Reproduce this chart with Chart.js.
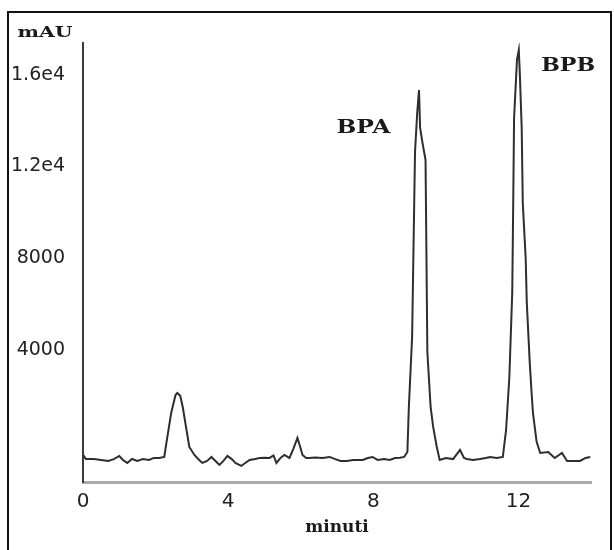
<!DOCTYPE html>
<html>
<head>
<meta charset="utf-8">
<script src="https://cdn.jsdelivr.net/npm/chart.js@4.4.1/dist/chart.umd.min.js"></script>
<style>
  html, body { margin: 0; padding: 0; background: #fff; }
  #wrap { width: 614px; height: 550px; }
</style>
</head>
<body>
<div id="wrap"><canvas id="hplcChart" width="614" height="550"></canvas></div>
<script>
// retention time (minuti) and detector signal (mAU)
var times = [0.00, 0.08, 0.30, 0.50, 0.70, 0.85, 1.00, 1.10, 1.22, 1.35, 1.50, 1.65, 1.82, 1.95, 2.10, 2.24,
  2.29, 2.43, 2.55, 2.60, 2.68, 2.75, 2.82, 2.93, 3.07, 3.20, 3.29, 3.42, 3.54, 3.65, 3.76, 3.87, 3.98,
  4.10, 4.20, 4.36, 4.50, 4.59, 4.75, 4.86, 5.00, 5.14, 5.25, 5.33, 5.45, 5.55, 5.69, 5.80, 5.91, 5.98,
  6.05, 6.15, 6.24, 6.40, 6.60, 6.80, 6.95, 7.10, 7.27, 7.45, 7.60, 7.71, 7.85, 7.98, 8.12, 8.30, 8.45,
  8.60, 8.73, 8.85, 8.94, 8.98, 9.07, 9.15, 9.21, 9.26, 9.29, 9.36, 9.44, 9.49, 9.58, 9.65, 9.75, 9.83,
  10.00, 10.20, 10.39, 10.50, 10.58, 10.75, 10.94, 11.10, 11.22, 11.40, 11.57, 11.66, 11.75, 11.83, 11.86,
  11.88, 11.96, 12.01, 12.04, 12.09, 12.12, 12.20, 12.23, 12.31, 12.36, 12.40, 12.50, 12.60, 12.82, 13.00,
  13.20, 13.34, 13.50, 13.70, 13.85, 13.98];
var mau = [-580, -755, -755, -800, -842, -760, -624, -800, -929, -755, -842, -755, -798, -711, -711, -667,
  -144, 1252, 2037, 2124, 2000, 1500, 816, -231, -580, -800, -929, -842, -667, -842, -1016, -842, -624,
  -760, -929, -1060, -900, -798, -760, -711, -700, -711, -600, -929, -700, -580, -711, -300, 161, -200,
  -580, -711, -711, -690, -711, -667, -760, -842, -842, -800, -798, -798, -711, -667, -798, -760, -798,
  -711, -700, -667, -449, 1514, 4567, 12637, 14338, 15341, 13700, 13000, 12288, 3913, 1514, 641, -231, -798,
  -711, -760, -362, -711, -755, -800, -755, -711, -667, -711, -667, 510, 2822, 6530, 10980,
  14120, 16650, 17086, 16000, 13684, 10412, 8000, 6094, 3500, 2200, 1252, 0, -493, -449, -711,
  -493, -842, -842, -842, -711, -667];

var xTicks = [0, 4, 8, 12];
var yTicks = [4000, 8000, 12000, 16000];

// peak names and where their labels sit (in data units)
var peakNames = ['BPA', 'BPB'];
var peakLabelTime = [7.73, 13.37];
var peakLabelMau = [13700, 16400];

function wideText(ctx, text, x, y, targetWidth) {
  var w = ctx.measureText(text).width;
  ctx.save();
  ctx.translate(x, y);
  ctx.scale(targetWidth / w, 1);
  ctx.fillText(text, 0, 0);
  ctx.restore();
}

var extras = {
  id: 'extras',
  afterDraw: function(chart) {
    var ctx = chart.ctx;
    var xs = chart.scales.x, ys = chart.scales.y;
    ctx.save();
    // outer frame
    ctx.strokeStyle = '#111';
    ctx.lineWidth = 2;
    ctx.beginPath();
    ctx.moveTo(8, 560);
    ctx.lineTo(8, 12);
    ctx.lineTo(611, 12);
    ctx.lineTo(611, 560);
    ctx.stroke();

    ctx.fillStyle = '#1a1a1a';
    ctx.textAlign = 'center';
    ctx.textBaseline = 'middle';
    // unit label above the y axis
    ctx.font = 'bold 15px "DejaVu Serif"';
    wideText(ctx, 'mAU', 45, 33, 55);
    // peak labels
    ctx.font = 'bold 19px "DejaVu Serif"';
    for (var i = 0; i < peakNames.length; i++) {
      wideText(ctx, peakNames[i], xs.getPixelForValue(peakLabelTime[i]), ys.getPixelForValue(peakLabelMau[i]), 54);
    }
    ctx.restore();
  }
};

var ctx1 = document.getElementById('hplcChart').getContext('2d');
var hplcChart = new Chart(ctx1, {
  type: 'line',
  data: {
    datasets: [{
      label: 'mAU',
      data: times.map(function(t, i) { return { x: t, y: mau[i] }; }),
      borderColor: '#2e2e2e',
      borderWidth: 2,
      pointRadius: 0,
      tension: 0,
      fill: false
    }]
  },
  options: {
    responsive: false,
    animation: false,
    devicePixelRatio: 1,
    layout: { padding: { left: 0, right: 23, top: 43, bottom: 0 } },
    plugins: {
      legend: { display: false },
      tooltip: { enabled: false }
    },
    scales: {
      x: {
        type: 'linear',
        min: 0,
        max: 14,
        afterBuildTicks: function(scale) {
          scale.ticks = xTicks.map(function(v) { return { value: v }; });
        },
        afterFit: function(scale) { scale.height = 68; },
        grid: { display: false },
        border: { display: true, color: '#a9a9a9', width: 3 },
        ticks: {
          color: '#222',
          font: { family: 'DejaVu Sans', size: 20 },
          padding: 0,
          maxRotation: 0
        },
        title: {
          display: true,
          text: 'minuti',
          color: '#1a1a1a',
          font: { family: 'DejaVu Serif', weight: 'bold', size: 17 },
          padding: { top: 0, bottom: 12 }
        }
      },
      y: {
        min: -1760,
        max: 17390,
        afterBuildTicks: function(scale) {
          scale.ticks = yTicks.map(function(v) { return { value: v }; });
        },
        afterFit: function(scale) { scale.width = 83; },
        grid: { display: false },
        border: { display: true, color: '#3a3a3a', width: 2 },
        ticks: {
          color: '#222',
          font: { family: 'DejaVu Sans', size: 19 },
          padding: 10,
          callback: function(v) {
            return v >= 10000 ? (v / 10000).toFixed(1) + 'e4' : String(v);
          }
        }
      }
    }
  },
  plugins: [extras]
});
</script>
</body>
</html>
